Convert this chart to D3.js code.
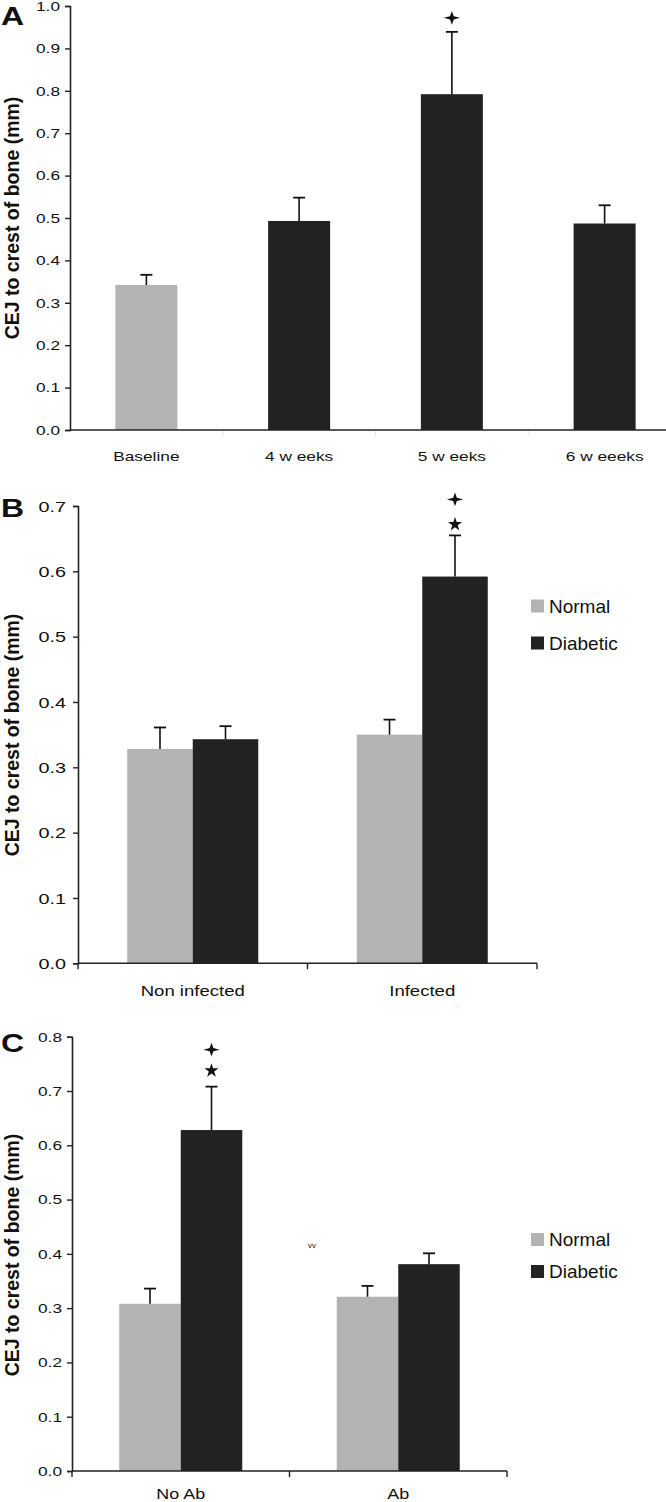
<!DOCTYPE html>
<html><head><meta charset="utf-8">
<script src="https://cdn.jsdelivr.net/npm/d3@7"></script>
<style>body{margin:0;background:#fff}svg{display:block}text{font-family:"Liberation Sans",Arial,sans-serif;fill:#111}</style>
</head><body><svg id="c" width="666" height="1502"></svg>
<script>
// ---------- data ----------
const catsA = ["Baseline", "4 w eeks", "5 w eeks", "6 w eeeks"];
const valsA = [0.342, 0.493, 0.792, 0.487];
const errA  = [0.024, 0.055, 0.147, 0.043];
const colorA = ["normal", "diabetic", "diabetic", "diabetic"];
const ticksA = [0.0,0.1,0.2,0.3,0.4,0.5,0.6,0.7,0.8,0.9,1.0];
const marksA = [[], [], ["plus"], []];

const series = ["Normal", "Diabetic"];
const catsB = ["Non infected", "Infected"];
const valsB = [[0.328, 0.343], [0.350, 0.592]];
const errB  = [[0.033, 0.020], [0.023, 0.063]];
const ticksB = [0.0,0.1,0.2,0.3,0.4,0.5,0.6,0.7];
const marksB = [[[],[]], [[],["star","plus"]]];

const catsC = ["No Ab", "Ab"];
const valsC = [[0.308, 0.628], [0.321, 0.381]];
const errC  = [[0.028, 0.080], [0.020, 0.020]];
const ticksC = [0.0,0.1,0.2,0.3,0.4,0.5,0.6,0.7,0.8];
const marksC = [[[],["star","plus"]], [[],[]]];

const yTitle = "CEJ to crest of bone  (mm)";
const colors = {normal: "#b3b3b3", diabetic: "#222222"};
const seriesColor = ["#b3b3b3", "#222222"];
const SX = 1.28; // horizontal stretch of the scanned figure's text

const svg = d3.select("#c");

function stext(g, x, y, t, fs, anchor, extra) {
  const el = g.append("text").attr("transform", `translate(${x},${y}) scale(${SX},1)`)
    .attr("text-anchor", anchor || "start").attr("font-size", fs).text(t);
  if (extra) extra(el);
  return el;
}
function plusPath(r) {
  const pts = [];
  for (let i = 0; i < 8; i++) {
    const a = i * Math.PI / 4 - Math.PI / 2;
    const rr = i % 2 === 0 ? r : r * 0.32;
    pts.push([Math.cos(a) * rr, Math.sin(a) * rr]);
  }
  return "M" + pts.map(p => p.join(",")).join("L") + "Z";
}
function drawMarks(g, x, yTop, list, gaps) {
  list.forEach((m, i) => {
    const yy = yTop - gaps[i];
    if (m === "plus") g.append("path").attr("d", plusPath(8.2)).attr("transform", `translate(${x},${yy}) scale(1,0.85)`).attr("fill", "#111");
    else g.append("path").attr("d", d3.symbol(d3.symbolStar, 62)()).attr("transform", `translate(${x},${yy + 1})`).attr("fill", "#111");
  });
}

function yAxisPanel(g, y, ticks, x0, fs, pad) {
  const ax = g.append("g").attr("transform", `translate(${x0},0)`)
    .call(d3.axisLeft(y).tickValues(ticks).tickFormat("").tickSize(5));
  ax.select(".domain").attr("stroke", "#222").attr("stroke-width", 1.6);
  ax.selectAll(".tick line").attr("stroke", "#222").attr("stroke-width", 1.4);
  const fmt = d3.format(".1f");
  ticks.forEach(t => stext(g, x0 - pad, y(t), fmt(t), fs, "end", el => el.attr("dy", "0.36em")));
}
function title(g, cx, cy, txt) {
  g.append("text").attr("transform", `translate(${cx},${cy}) rotate(-90)`).attr("text-anchor", "middle")
    .attr("dy", "0.36em").attr("font-size", 19.5).attr("font-weight", "bold").text(txt);
}
function letter(g, x, y, t) {
  stext(g, x, y, t, 25, "start", el => el.attr("font-weight", "bold"));
}
function errorBar(g, x, yv, ye) {
  g.append("line").attr("x1", x).attr("x2", x).attr("y1", yv).attr("y2", ye).attr("stroke", "#111").attr("stroke-width", 1.6);
  g.append("line").attr("x1", x - 6).attr("x2", x + 6).attr("y1", ye).attr("y2", ye).attr("stroke", "#111").attr("stroke-width", 1.8);
}

// ---------- Panel A ----------
{
  const g = svg.append("g");
  const y = d3.scaleLinear().domain([0, 1.0]).range([430, 6]);
  const x = d3.scaleBand().domain(catsA).range([70, 681]).paddingInner(0.594).paddingOuter(0.297);
  catsA.forEach((c, i) => {
    g.append("rect").attr("x", x(c)).attr("width", x.bandwidth()).attr("y", y(valsA[i])).attr("height", y(0) - y(valsA[i])).attr("fill", colors[colorA[i]]);
    const cx = x(c) + x.bandwidth() / 2;
    errorBar(g, cx, y(valsA[i]), y(valsA[i] + errA[i]));
    drawMarks(g, cx, y(valsA[i] + errA[i]), marksA[i], [14, 38]);
  });
  const step = x.step();
  for (let i = 1; i < catsA.length; i++) {
    const xx = 70 + step * i;
    g.append("line").attr("x1", xx).attr("x2", xx).attr("y1", 430).attr("y2", 436).attr("stroke", "#e4e4e4").attr("stroke-width", 1);
  }
  g.append("line").attr("x1", 70).attr("x2", 681).attr("y1", 430).attr("y2", 430).attr("stroke", "#222").attr("stroke-width", 1.6);
  yAxisPanel(g, y, ticksA, 70, 13.5, 10);
  catsA.forEach(c => stext(g, x(c) + x.bandwidth() / 2, 461, c, 13.5, "middle"));
  title(g, 12, 218, yTitle);
  letter(g, 1, 25, "A");
}

function groupedPanel(opts) {
  const g = svg.append("g");
  const y = d3.scaleLinear().domain([0, opts.max]).range([opts.y0, opts.yTop]);
  const x = d3.scaleBand().domain(opts.cats).range([opts.x0, opts.x1]);
  const xs = d3.scaleBand().domain(series).range([0, opts.barW * 2]);
  opts.cats.forEach((c, i) => {
    const gx = x(c) + x.bandwidth() / 2 - opts.barW;
    series.forEach((s, j) => {
      const v = opts.vals[i][j];
      g.append("rect").attr("x", gx + xs(s)).attr("width", xs.bandwidth()).attr("y", y(v)).attr("height", y(0) - y(v)).attr("fill", seriesColor[j]);
      const cx = gx + xs(s) + xs.bandwidth() / 2;
      errorBar(g, cx, y(v), y(v + opts.err[i][j]));
      drawMarks(g, cx, y(v + opts.err[i][j]), opts.marks[i][j], opts.gaps);
    });
  });
  g.append("line").attr("x1", opts.x0).attr("x2", opts.x1).attr("y1", opts.y0).attr("y2", opts.y0).attr("stroke", "#222").attr("stroke-width", 1.6);
  [0, 1, 2].forEach(k => {
    const xx = opts.x0 + x.step() * k;
    g.append("line").attr("x1", xx).attr("x2", xx).attr("y1", opts.y0).attr("y2", opts.y0 + 6).attr("stroke", "#222").attr("stroke-width", 1.4);
  });
  yAxisPanel(g, y, opts.ticks, opts.x0, opts.tfs, opts.pad);
  opts.cats.forEach(c => stext(g, x(c) + x.bandwidth() / 2, opts.labelY, c, opts.lfs, "middle"));
  title(g, 12, opts.titleY, yTitle);
  letter(g, 1, opts.letterY, opts.letter);
  series.forEach((s, j) => {
    const ly = opts.legY[j];
    g.append("rect").attr("x", 531).attr("y", ly - 6.5).attr("width", 13).attr("height", 13).attr("fill", seriesColor[j]);
    g.append("text").attr("x", 549).attr("y", ly).attr("dy", "0.36em").attr("font-size", 19).text(s);
  });
  return {g, x, y};
}

// ---------- Panel B ----------
groupedPanel({cats: catsB, vals: valsB, err: errB, marks: marksB, ticks: ticksB, max: 0.7,
  y0: 963.3, yTop: 506, x0: 78, x1: 537, barW: 65.5, gaps: [12, 36], tfs: 15.5, lfs: 14.5, pad: 12,
  labelY: 996, titleY: 735, letter: "B", letterY: 517, legY: [606, 643]});

// ---------- Panel C ----------
const pc = groupedPanel({cats: catsC, vals: valsC, err: errC, marks: marksC, ticks: ticksC, max: 0.8,
  y0: 1471, yTop: 1036.7, x0: 72, x1: 507, barW: 61.5, gaps: [17, 37], tfs: 13.5, lfs: 14, pad: 10,
  labelY: 1499, titleY: 1255, letter: "C", letterY: 1052, legY: [1239.5, 1271.5]});
pc.g.append("text").attr("x", 312).attr("y", 1248).attr("text-anchor", "middle").attr("font-size", 8).attr("fill", "#555").text("vv");
</script></body></html>
